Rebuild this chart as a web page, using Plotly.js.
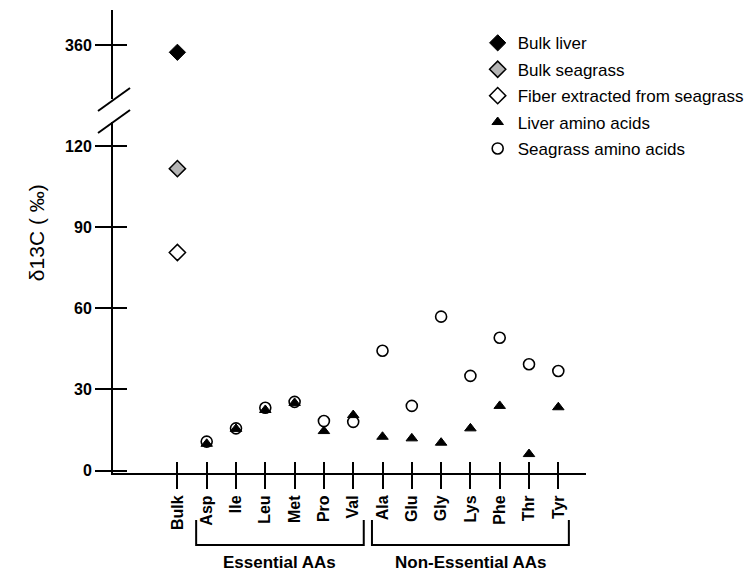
<!DOCTYPE html>
<html>
<head>
<meta charset="utf-8">
<script src="https://cdn.plot.ly/plotly-3.0.1.min.js"></script>
<style>html,body{margin:0;padding:0;background:#fff;}#chart{width:746px;height:573px;}</style>
</head>
<body>
<div id="chart"></div>
<script>
// ---- data ----
const categories = ['Bulk','Asp','Ile','Leu','Met','Pro','Val','Ala','Glu','Gly','Lys','Phe','Thr','Tyr'];
const aminoAcids = ['Asp','Ile','Leu','Met','Pro','Val','Ala','Glu','Gly','Lys','Phe','Thr','Tyr'];
const bulkLiver = [357.3];
const bulkSeagrass = [111.6];
const fiberSeagrass = [80.6];
const liverAA =    [9.9, 15.4, 22.4, 25.0, 14.6, 20.5, 12.5, 11.9, 10.3, 15.6, 23.9, 6.1, 23.4];
const seagrassAA = [10.7, 15.6, 23.2, 25.4, 18.3, 18.0, 44.3, 23.9, 56.9, 35.0, 49.1, 39.3, 36.8];
const yTicksLower = [0, 30, 60, 90, 120];
const yTicksUpper = [360];
const groupNames = ['Essential AAs', 'Non-Essential AAs'];
const groupStart = ['Asp', 'Ala'];
const groupEnd = ['Val', 'Tyr'];
const yTitle = 'δ13C ( ‰)';

// ---- helpers ----
const pos = c => categories.indexOf(c);
const FONT = 'Arial, "Liberation Sans", sans-serif';

const traces = [
  {name:'Bulk liver', x:['Bulk'].map(pos), y:bulkLiver, xaxis:'x', yaxis:'y2', mode:'markers',
   marker:{symbol:'diamond', size:12.5, color:'#000', line:{color:'#000', width:1}}, legendgroup:'a'},
  {name:'Bulk seagrass', x:['Bulk'].map(pos), y:bulkSeagrass, mode:'markers',
   marker:{symbol:'diamond', size:12.5, color:'#b4b4b4', line:{color:'#000', width:1.5}}, legendgroup:'b'},
  {name:'Fiber extracted from seagrass', x:['Bulk'].map(pos), y:fiberSeagrass, mode:'markers',
   marker:{symbol:'diamond', size:12.5, color:'#fff', line:{color:'#000', width:1.5}}, legendgroup:'c'},
  {name:'Liver amino acids', x:aminoAcids.map(pos), y:liverAA, mode:'markers',
   marker:{symbol:'triangle-up', size:10, color:'#000', line:{color:'#000', width:1}}, legendgroup:'d'},
  {name:'Seagrass amino acids', x:aminoAcids.map(pos), y:seagrassAA, mode:'markers',
   marker:{symbol:'circle-open', size:11, color:'#000', line:{width:1.6}}, legendgroup:'e'},
  // empty helper traces so the overlaid "inside tick" axes get drawn (crossing ticks)
  {x:[], y:[], xaxis:'x2', yaxis:'y', mode:'markers', showlegend:false, hoverinfo:'skip'},
  {x:[], y:[], xaxis:'x', yaxis:'y3', mode:'markers', showlegend:false, hoverinfo:'skip'},
  {x:[], y:[], xaxis:'x', yaxis:'y4', mode:'markers', showlegend:false, hoverinfo:'skip'}
];

const xRange = [-2.198, 13.945];
const lowerRange = [-0.9, 129.0];
const upperRange = [339.9, 372.9];
const axBase = {showgrid:false, zeroline:false, linecolor:'#000', linewidth:2, tickcolor:'#000', tickwidth:2, autorange:false};

const shapes = [];
const annotations = [];
// axis break slashes
[[0.7819, 0.8315], [0.7343, 0.784]].forEach(([y0, y1]) => {
  shapes.push({type:'line', xref:'paper', yref:'paper', x0:-0.0317, x1:0.036, y0:y0, y1:y1,
    line:{color:'#000', width:2}});
});
// group brackets
const pad = 0.36, yTop = -0.1015, yBot = -0.1555;
groupNames.forEach((g, i) => {
  const a = pos(groupStart[i]) - pad, b = pos(groupEnd[i]) + pad;
  shapes.push({type:'path', xref:'x', yref:'paper',
    path:`M${a},${yTop} L${a},${yBot} L${b},${yBot} L${b},${yTop}`,
    line:{color:'#000', width:2}});
  annotations.push({text:g, xref:'x', yref:'paper', x:(pos(groupStart[i]) + pos(groupEnd[i]))/2, y:-0.194,
    showarrow:false, xanchor:'center', yanchor:'middle',
    font:{family:FONT, size:17, color:'#000', weight:'bold'}});
});
annotations.push({text:yTitle, xref:'paper', yref:'paper', x:-0.163, y:0.52, textangle:-90,
  showarrow:false, xanchor:'center', yanchor:'middle', font:{family:FONT, size:21, color:'#000'}});

const layout = {
  width:746, height:573,
  margin:{l:113, r:160, t:10, b:100, autoexpand:false},
  paper_bgcolor:'#fff', plot_bgcolor:'rgba(0,0,0,0)',
  font:{family:FONT, color:'#000'},
  showlegend:true,
  legend:{x:0.771, y:0.967, xanchor:'left', yanchor:'top', font:{family:FONT, size:17, color:'#000'},
    tracegroupgap:1.3, bgcolor:'rgba(0,0,0,0)'},
  xaxis:Object.assign({}, axBase, {range:xRange, anchor:'y', showline:true, ticks:'outside', ticklen:14,
    tickmode:'array', tickvals:categories.map(pos), ticktext:categories, tickangle:-90,
    tickfont:{family:FONT, size:16, color:'#000', weight:'bold'}}),
  xaxis2:Object.assign({}, axBase, {range:xRange, overlaying:'x', anchor:'y', showline:false, ticks:'inside', ticklen:11,
    tickmode:'array', tickvals:categories.map(pos), showticklabels:false}),
  yaxis:Object.assign({}, axBase, {domain:[0, 0.759], range:lowerRange, anchor:'x', showline:true, ticks:'outside', ticklen:16,
    tickmode:'array', tickvals:yTicksLower, tickfont:{family:FONT, size:16, color:'#000', weight:'bold'}}),
  yaxis2:Object.assign({}, axBase, {domain:[0.8067, 1], range:upperRange, anchor:'x', showline:true, ticks:'outside', ticklen:16,
    tickmode:'array', tickvals:yTicksUpper, tickfont:{family:FONT, size:16, color:'#000', weight:'bold'}}),
  yaxis3:Object.assign({}, axBase, {range:lowerRange, overlaying:'y', anchor:'x', showline:false, ticks:'inside', ticklen:14,
    tickmode:'array', tickvals:yTicksLower, showticklabels:false}),
  yaxis4:Object.assign({}, axBase, {range:upperRange, overlaying:'y2', anchor:'x', showline:false, ticks:'inside', ticklen:14,
    tickmode:'array', tickvals:yTicksUpper, showticklabels:false}),
  shapes:shapes,
  annotations:annotations
};

Plotly.newPlot('chart', traces, layout, {displayModeBar:false, staticPlot:true});
</script>
</body>
</html>
